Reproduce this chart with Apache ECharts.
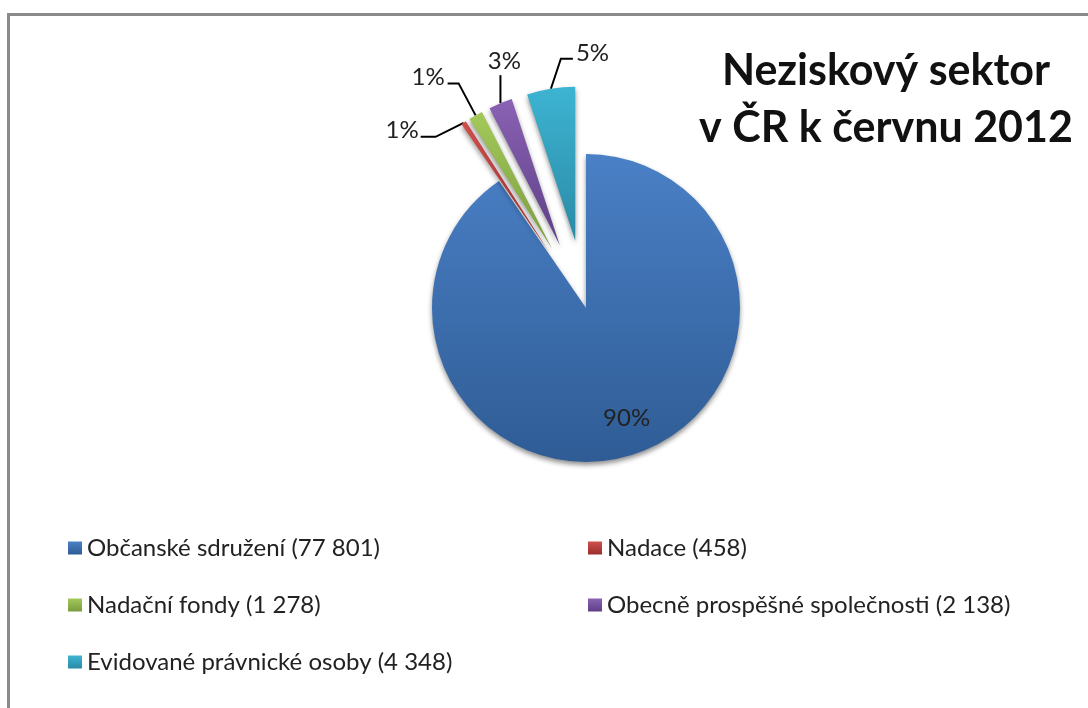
<!DOCTYPE html>
<html>
<head>
<meta charset="utf-8">
<script src="https://cdn.jsdelivr.net/npm/echarts@6/dist/echarts.min.js"></script>
<style>
  html, body { margin: 0; padding: 0; background: #fff; }
  #frame { position: absolute; left: 7px; top: 13px; width: 1100px; height: 720px;
           border-top: 3px solid #8a8a8a; border-left: 3px solid #8a8a8a; }
  #chart { position: absolute; left: 0; top: 0; width: 1088px; height: 708px; }
</style>
</head>
<body>
<div id="frame"></div>
<div id="chart"></div>
<script>
var categories = ['Občanské sdružení', 'Nadace', 'Nadační fondy', 'Obecně prospěšné společnosti', 'Evidované právnické osoby'];
var counts = [77801, 458, 1278, 2138, 4348];
var pctLabels = ['90%', '1%', '1%', '3%', '5%'];
var exploded = [false, true, true, true, true];
var colorTop = ['#4a80c6', '#d0504d', '#a3c95a', '#8a62b4', '#3db4d2'];
var colorBottom = ['#2f5c95', '#9a2e2b', '#7a9c3e', '#5e3f86', '#2a8aa6'];

function fmt(n) {
  return String(n).replace(/\B(?=(\d{3})+(?!\d))/g, ' ');
}
var names = categories.map(function (c, i) { return c + ' (' + fmt(counts[i]) + ')'; });

// leader line shape for outside labels: bend offset from slice edge, then horizontal run
var leaders = [
  null,
  { bend: [-28, 14], run: -15, align: 'right', lx: -2, ly: -7 },
  { bend: [-17, -32], run: -11, align: 'right', lx: -3, ly: -6 },
  { bend: [0, -28], run: 0, align: 'center', lx: 4, ly: -14 },
  { bend: [10, -30], run: 12, align: 'left', lx: 3, ly: -6 }
];

var font = 'Lato, "Open Sans", sans-serif';
var chart = echarts.init(document.getElementById('chart'), null, { renderer: 'canvas' });

var pieData = counts.map(function (v, i) {
  var item = {
    name: names[i],
    value: v,
    selected: exploded[i],
    itemStyle: {
      color: new echarts.graphic.LinearGradient(0, 0, 0, 1, [
        { offset: 0, color: colorTop[i] },
        { offset: 1, color: colorBottom[i] }
      ])
    }
  };
  if (i === 0) {
    item.label = { position: 'inside' };
  }
  return item;
});

var option = {
  animation: false,
  title: {
    text: 'Neziskový sektor\nv ČR k červnu 2012',
    left: 881,
    top: 38,
    textAlign: 'center',
    textStyle: { fontFamily: font, fontWeight: 'bold', fontSize: 43, lineHeight: 57, color: '#111' }
  },
  legend: [
    {
      data: [names[0], names[2], names[4]],
      orient: 'vertical',
      left: 63, top: 531,
      icon: 'rect', itemWidth: 14, itemHeight: 13, itemGap: 33,
      selectedMode: false,
      textStyle: { fontFamily: font, fontSize: 24, lineHeight: 24, color: '#222' }
    },
    {
      data: [names[1], names[3]],
      orient: 'vertical',
      left: 583, top: 531,
      icon: 'rect', itemWidth: 14, itemHeight: 13, itemGap: 33,
      selectedMode: false,
      textStyle: { fontFamily: font, fontSize: 24, lineHeight: 24, color: '#222' }
    }
  ],
  series: [
    {
      type: 'pie',
      center: [586, 308],
      radius: 154,
      startAngle: 90,
      selectedMode: 'multiple',
      selectedOffset: 68,
      data: pieData,
      itemStyle: {
        shadowBlur: 5,
        shadowOffsetY: 3,
        shadowColor: 'rgba(0,0,0,0.45)'
      },
      label: {
        show: true,
        fontFamily: font,
        fontSize: 24,
        color: '#222',
        formatter: function (p) { return pctLabels[p.dataIndex]; }
      },
      labelLine: {
        show: true,
        length: 18,
        length2: 16,
        lineStyle: { color: '#000', width: 2 }
      },
      emphasis: { disabled: true },
      labelLayout: function (p) {
        if (p.dataIndex === 0) {
          return { dx: 17, dy: 34 };
        }
        var L = leaders[p.dataIndex];
        var a = p.labelLinePoints[0];
        var b = [a[0] + L.bend[0], a[1] + L.bend[1]];
        var c = [b[0] + L.run, b[1]];
        var tx = c[0] + L.lx;
        var ty = c[1] + L.ly;
        var r = p.labelRect;
        var left = L.align === 'right' ? tx - r.width : (L.align === 'center' ? tx - r.width / 2 : tx);
        return {
          dx: left - r.x,
          dy: ty - r.height / 2 - r.y,
          labelLinePoints: [a, b, c]
        };
      }
    }
  ]
};
chart.setOption(option);
window.addEventListener('resize', function () { chart.resize(); });
</script>
</body>
</html>
